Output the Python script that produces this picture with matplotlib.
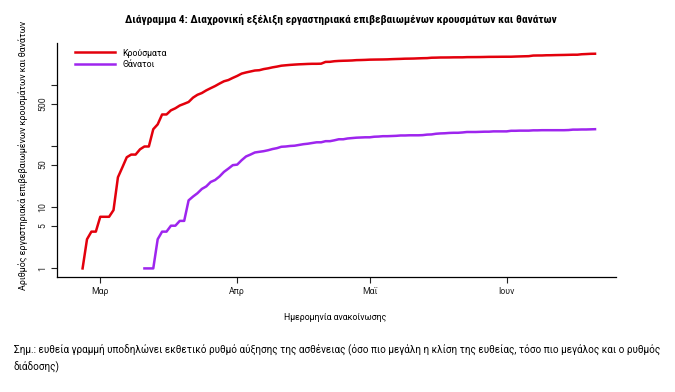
import matplotlib
matplotlib.use("Agg")
import matplotlib.pyplot as plt
import matplotlib.dates as mdates
from matplotlib import font_manager as fm
import pandas as pd
import numpy as np

# ---------------- data ----------------
cases_start = "2020-02-26"
cases = [
    1, 3, 4, 4,
    7, 7, 7, 9, 31, 45, 66, 73, 73, 89, 99, 99, 190, 228, 331, 331, 387, 418, 464, 495,
    530, 624, 695, 743, 821, 892, 966, 1061, 1156, 1212, 1314,
    1415, 1544, 1613, 1673, 1735, 1755, 1832, 1884, 1955, 2011, 2081, 2114, 2145, 2170, 2192,
    2207, 2224, 2235, 2235, 2245, 2401, 2408, 2463, 2490, 2506, 2517, 2534, 2566, 2576, 2591,
    2612, 2620, 2626, 2632, 2642, 2663, 2678, 2691, 2710, 2716, 2726, 2744, 2760, 2770, 2810,
    2819, 2834, 2836, 2840, 2850, 2853, 2853, 2873, 2876, 2878, 2882, 2892, 2903, 2906, 2909, 2915,
    2917, 2918, 2937, 2952, 2967, 2980, 3049, 3058, 3060, 3083, 3088, 3102, 3112, 3121, 3134,
    3148, 3148, 3203, 3227, 3256, 3266,
]
deaths_start = "2020-03-11"
deaths = [
    1, 1, 1, 3, 4, 4, 5, 5, 6, 6, 13, 15, 17, 20, 22, 26, 28, 32, 38, 43, 49,
    50, 59, 68, 73, 79, 81, 83, 86, 90, 93, 98, 99, 101, 102, 105, 108, 110, 113, 116, 116,
    121, 121, 125, 130, 130, 134, 136, 138, 139, 140,
    140, 143, 144, 146, 146, 147, 148, 150, 150, 151, 151, 151, 152, 155, 156, 160, 162, 163,
    165, 166, 166, 168, 171, 171, 171, 172, 173, 173, 175, 175, 175,
    175, 179, 179, 180, 180, 180, 182, 182, 183, 183, 183, 183, 183, 183, 184, 187, 187, 188,
    188, 189, 190,
]
series_labels = ["Κρούσματα", "Θάνατοι"]
xtick_dates = ["2020-03-01", "2020-04-01", "2020-05-01", "2020-06-01"]
xtick_labels = ["Μαρ", "Απρ", "Μαΐ", "Ιουν"]
ytick_values = [1, 5, 10, 50, 100, 500, 1000]
ytick_labels = ["1", "5", "10", "50", "", "500", ""]

title = "Διάγραμμα 4: Διαχρονική εξέλιξη εργαστηριακά επιβεβαιωμένων κρουσμάτων και θανάτων"
xlabel = "Ημερομηνία ανακοίνωσης"
ylabel = "Αριθμός εργαστηριακά επιβεβαιωμένων κρουσμάτων και θανάτων"
note = ("Σημ.: ευθεία γραμμή υποδηλώνει εκθετικό ρυθμό αύξησης της ασθένειας (όσο πιο μεγάλη η κλίση της ευθείας, τόσο πιο μεγάλος και ο ρυθμός\n"
        "διάδοσης)")

# ---------------- fonts ----------------
avail = {f.name for f in fm.fontManager.ttflist}
def pick(cands):
    return next((f for f in cands if f in avail), "DejaVu Sans")
narrow = pick(["Roboto Condensed", "Liberation Sans Narrow", "DejaVu Sans Condensed", "Roboto"])
regular = pick(["Roboto", "Lato", "Noto Sans"])
plt.rcParams["font.family"] = [regular, "DejaVu Sans"]

W, H = 675, 392
fig = plt.figure(figsize=(W / 100, H / 100), dpi=100)
ax = fig.add_axes([57 / W, 1 - 277 / H, (616 - 57) / W, (277 - 43) / H])

cd = pd.date_range(cases_start, periods=len(cases), freq="D")
dd = pd.date_range(deaths_start, periods=len(deaths), freq="D")
ax.plot(cd, cases, color="#E3000C", lw=1.8, label=series_labels[0])
ax.plot(dd, deaths, color="#9E25EE", lw=1.8, label=series_labels[1])
ax.set_yscale("log")

ax.set_xlim(mdates.date2num(pd.Timestamp("2020-02-20 05:00")), mdates.date2num(pd.Timestamp("2020-06-25 18:00")))
lo, hi = np.log10(1), np.log10(max(cases))
pad = 0.04 * (hi - lo)
ax.set_ylim(10 ** (lo - pad), 10 ** (hi + pad * 1.25))

ax.set_xticks([mdates.date2num(pd.Timestamp(d)) for d in xtick_dates])
ax.set_xticklabels(xtick_labels, fontsize=6.3)
ax.set_yticks(ytick_values)
ax.set_yticklabels(ytick_labels, fontsize=6.3, rotation=90, va="center")
ax.yaxis.set_minor_locator(matplotlib.ticker.NullLocator())
ax.tick_params(axis="both", direction="out", length=4, width=0.8, pad=3, colors="#222222")
for s in ["top", "right"]:
    ax.spines[s].set_visible(False)
for s in ["left", "bottom"]:
    ax.spines[s].set_linewidth(0.9)

leg = ax.legend(loc="upper left", bbox_to_anchor=(14 / 559, 1 - 2 / 234), frameon=False,
                fontsize=6.3, handlelength=4.6, handletextpad=0.9, labelspacing=0.3, borderaxespad=0)

fig.text(341 / W, 1 - 19 / H, title, ha="center", va="center", fontsize=8.2, fontweight="bold",
         family=[narrow, "DejaVu Sans"])
fig.text(335 / W, 1 - 318 / H, xlabel, ha="center", va="center", fontsize=6.3)
fig.text(23 / W, 1 - 155 / H, ylabel, ha="center", va="center", fontsize=6.4, rotation=90)
fig.text(14 / W, 1 - 343 / H, note, ha="left", va="top", fontsize=7.1, linespacing=1.75)

fig.savefig("out.png", dpi=100)
